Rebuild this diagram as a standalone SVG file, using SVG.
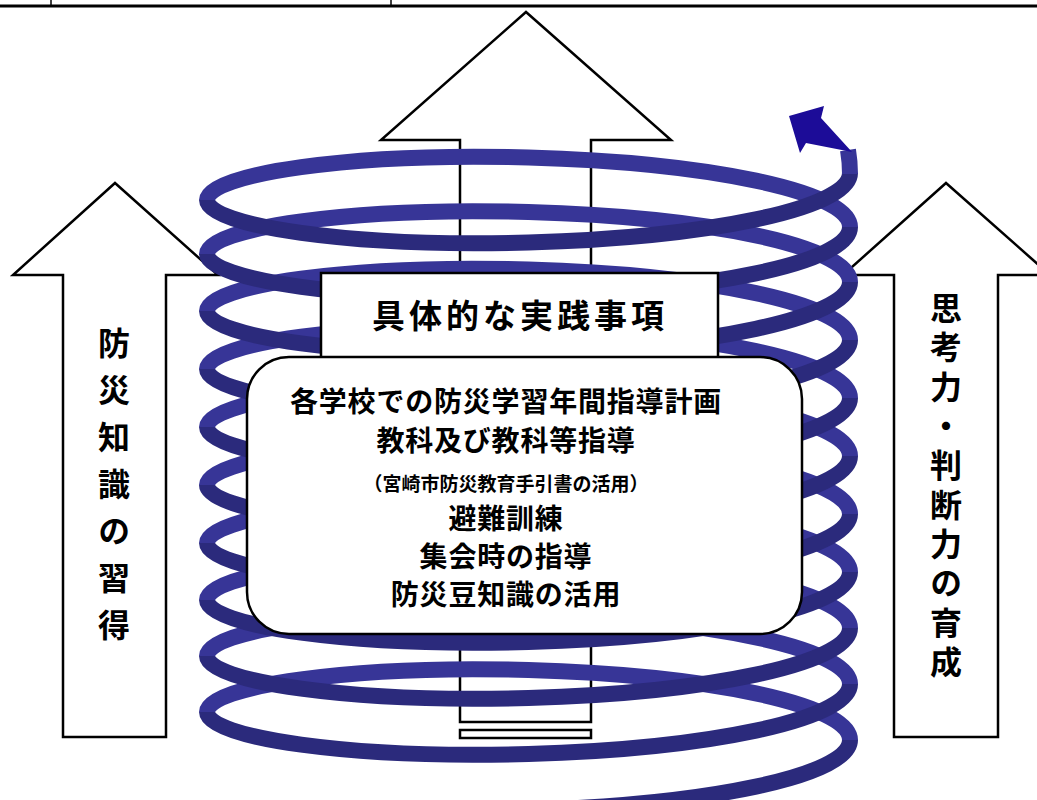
<svg xmlns="http://www.w3.org/2000/svg" width="1037" height="800" viewBox="0 0 1037 800">
  <style>
    .frame { fill: #fff; stroke: #000; stroke-width: 2.5; }
    .rule { fill: none; stroke: #000; }
    .back { fill: none; stroke: #373597; stroke-width: 16; }
    .front { fill: none; stroke: #2b2a7c; stroke-width: 16; }
    .tip { fill: #1c0c98; }
    .txt { font-family: "Noto Sans CJK JP", "Noto Sans CJK SC", sans-serif; font-weight: 700; fill: #000; text-anchor: middle; }
    .vtxt { font-family: "Noto Sans CJK JP", "Noto Sans CJK SC", sans-serif; font-weight: 700; fill: #000; text-anchor: start; writing-mode: vertical-rl; }
  </style>

  <!-- table rule along the top edge -->
  <g id="table-rule">
    <line class="rule" x1="0" y1="6" x2="1037" y2="6" stroke-width="3"/>
    <line class="rule" x1="51" y1="0" x2="51" y2="6" stroke-width="1.5"/>
    <line class="rule" x1="391" y1="0" x2="391" y2="6" stroke-width="1.5"/>
  </g>

  <!-- left arrow: knowledge -->
  <g id="arrow-left">
    <polygon class="frame" points="115,183 218,275 166,275 166,737 63,737 63,275 13,275"/>
    <text class="vtxt" x="114" y="327" font-size="32" letter-spacing="15">防災知識の習得</text>
  </g>

  <!-- right arrow: thinking and judgement -->
  <g id="arrow-right">
    <polygon class="frame" points="946,183 1050,275 998,275 998,737 894,737 894,275 843,275"/>
    <text class="vtxt" x="946" y="292" font-size="32" letter-spacing="7.3">思考力・判断力の育成</text>
  </g>

  <!-- centre arrow -->
  <g id="arrow-center">
    <polygon class="frame" points="526,12 671,140 591,140 591,722 460,722 460,140 381,140"/>
    <rect class="frame" x="460" y="730" width="131" height="8"/>
  </g>

  <!-- helix: far side first, near side on top -->
  <g id="connectors">
    <path class="back" d="
      M850,740 C850,704 706.1,675 528.5,670 C350.9,665 207,686 207,712
      M850,684 C850,648 706.1,619 528.5,614 C350.9,609 207,630 207,656
      M850,628 C850,592 706.1,563 528.5,558 C350.9,553 207,574 207,600
      M850,572 C850,536 706.1,506.5 528.5,501.5 C350.9,496.5 207,517 207,543
      M850,514 C850,478 706.1,448.5 528.5,443.5 C350.9,438.5 207,459 207,485
      M850,456 C850,420 706.1,390.5 528.5,385.5 C350.9,380.5 207,401 207,427
      M850,398 C850,362 706.1,332.5 528.5,327.5 C350.9,322.5 207,343 207,369
      M850,340 C850,304 706.1,274.5 528.5,269.5 C350.9,264.5 207,285 207,311
      M850,282 C850,246 706.1,217 528.5,212 C350.9,207 207,228 207,254
      M850,227 C850,191 706.1,162.5 528.5,157.5 C350.9,152.5 207,174 207,200"/>
    <path class="front" d="
      M528.5,810 C706.1,805 850,776 850,740
      M207,712 C207,738 350.9,759 528.5,754 C706.1,749 850,720 850,684
      M207,656 C207,682 350.9,703 528.5,698 C706.1,693 850,664 850,628
      M207,600 C207,626 350.9,647 528.5,642 C706.1,637 850,608 850,572
      M207,543 C207,569 350.9,589.5 528.5,584.5 C706.1,579.5 850,550 850,514
      M207,485 C207,511 350.9,531.5 528.5,526.5 C706.1,521.5 850,492 850,456
      M207,427 C207,453 350.9,473.5 528.5,468.5 C706.1,463.5 850,434 850,398
      M207,369 C207,395 350.9,415.5 528.5,410.5 C706.1,405.5 850,376 850,340
      M207,311 C207,337 350.9,357.5 528.5,352.5 C706.1,347.5 850,318 850,282
      M207,254 C207,280 350.9,301.5 528.5,296.5 C706.1,291.5 850,263 850,227
      M207,200 C207,226 350.9,247.5 528.5,242.5 C706.1,237.5 850,209 850,173"/>
    <path class="back" d="M850,174 C850,166 849.5,159 848,150"/>
    <polygon class="tip" points="789,116 824,106 821,118 852,152 806,143 800,153"/>
  </g>

  <!-- heading box -->
  <g id="box-heading">
    <rect class="frame" x="321" y="273" width="397" height="100"/>
    <text class="txt" x="520" y="328" font-size="33" letter-spacing="4">具体的な実践事項</text>
  </g>

  <!-- list of practices -->
  <g id="box-practices">
    <rect class="frame" x="247" y="357" width="555" height="277" rx="42" ry="42"/>
    <text class="txt" x="506" y="412" font-size="28" letter-spacing="0.8">各学校での防災学習年間指導計画</text>
    <text class="txt" x="506" y="451" font-size="28" letter-spacing="0.8">教科及び教科等指導</text>
    <text class="txt" x="506" y="491" font-size="19">（宮崎市防災教育手引書の活用）</text>
    <text class="txt" x="506" y="529" font-size="28" letter-spacing="0.8">避難訓練</text>
    <text class="txt" x="506" y="567" font-size="28" letter-spacing="0.8">集会時の指導</text>
    <text class="txt" x="506" y="605" font-size="28" letter-spacing="0.8">防災豆知識の活用</text>
  </g>
</svg>
